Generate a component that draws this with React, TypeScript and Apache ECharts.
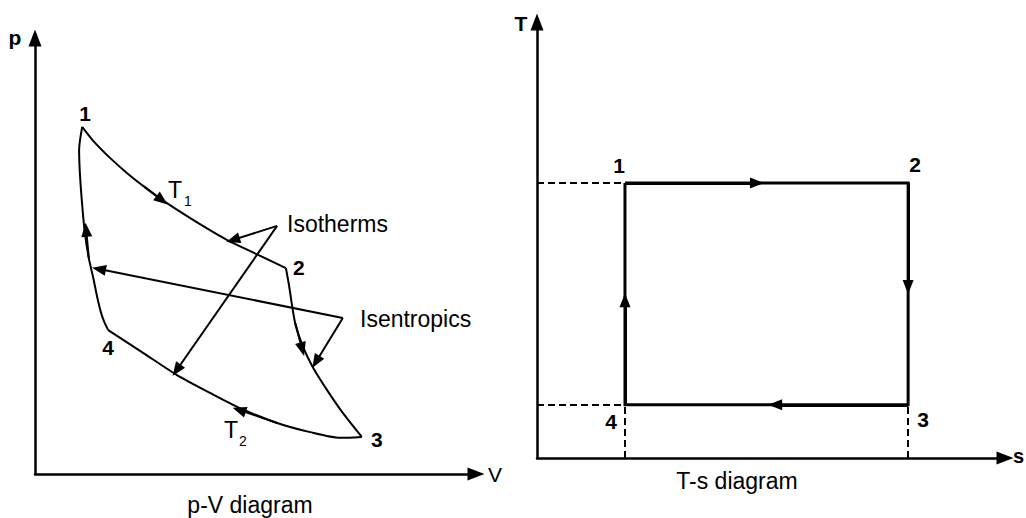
import React, { useEffect, useRef } from "react";
import * as echarts from "echarts";

// ---------- p-V diagram (arbitrary units: V 0..10, p 0..10) ----------
const isothermHotV = [1.07, 1.32, 1.7, 2.09, 2.49, 2.95, 3.63, 4.35, 5.01, 5.69];
const isothermHotP = [7.96, 7.64, 7.25, 6.9, 6.58, 6.24, 5.8, 5.37, 5.05, 4.72];
const isentropeExpV = [5.69, 5.76, 5.81, 5.9, 6.08, 6.3, 6.62, 6.98, 7.41];
const isentropeExpP = [4.72, 4.33, 3.99, 3.46, 2.91, 2.45, 1.93, 1.4, 0.85];
const isothermColdV = [7.41, 6.92, 6.24, 5.49, 4.65, 3.97, 3.22, 2.45, 1.66];
const isothermColdP = [0.85, 0.83, 0.96, 1.17, 1.51, 1.86, 2.27, 2.78, 3.3];
const isentropeCompV = [1.66, 1.57, 1.5, 1.41, 1.32, 1.22, 1.13, 1.07, 1.02, 1.0, 1.07];
const isentropeCompP = [3.3, 3.49, 3.69, 4.06, 4.5, 4.95, 5.53, 6.17, 6.86, 7.43, 7.96];

const pvStateNames = ["1", "2", "3", "4"];
const pvStateV = [1.07, 5.69, 7.41, 1.66];
const pvStateP = [7.96, 4.72, 0.85, 3.3];

// flow-direction arrows on the curves: [fromV, fromP, toV, toP]
const pvFlowArrows = [
  [2.49, 6.58, 2.88, 6.28],
  [5.9, 3.46, 6.06, 2.86],
  [5.49, 1.17, 4.63, 1.47],
  [1.22, 4.95, 1.16, 5.6],
];

// callouts
const isothermApex = [5.49, 5.69];
const isothermTargets = [
  [4.49, 5.37],
  [3.21, 2.38],
];
const isentropeApex = [6.98, 3.58];
const isentropeTargets = [
  [1.45, 4.7],
  [6.37, 2.57],
];

// ---------- T-s diagram (arbitrary units: s 0..10, T 0..10) ----------
const tsEntropy = [1.88, 7.93];
const tsTemperature = [6.31, 1.22];
const tsStateNames = ["1", "2", "3", "4"];
const tsStateS = [1.88, 7.93, 7.93, 1.88];
const tsStateT = [6.31, 6.31, 1.22, 1.22];
const tsFlowArrows = [
  [1.88, 6.31, 4.7, 6.31],
  [7.93, 6.31, 7.93, 3.92],
  [7.93, 1.22, 5.09, 1.22],
  [1.88, 1.22, 1.88, 3.62],
];

// label offsets (style)
const pvLabelOffsets = [
  [3, -13],
  [13, -1],
  [15, 3],
  [0, 17],
];
const tsLabelOffsets = [
  [-6, -17],
  [7, -18],
  [15, 15],
  [-14, 17],
];

const FONT = '"Liberation Sans", Arial, Helvetica, sans-serif';
const INK = "#000";

const zip = (a: number[], b: number[]) => a.map((v, i) => [v, b[i]]);

function axis(gridIndex: number) {
  return {
    type: "value",
    gridIndex,
    min: 0,
    max: 10,
    axisLabel: { show: false },
    axisTick: { show: false },
    splitLine: { show: false },
    axisLine: {
      show: true,
      onZero: false,
      symbol: ["none", "triangle"],
      symbolSize: [13, 17],
      lineStyle: { color: INK, width: 2.5 },
    },
  };
}

function curve(gridIndex: number, xs: number[], ys: number[]) {
  return {
    type: "line",
    xAxisIndex: gridIndex,
    yAxisIndex: gridIndex,
    data: zip(xs, ys),
    showSymbol: false,
    symbol: "none",
    smooth: 0.25,
    clip: false,
    silent: true,
    lineStyle: { color: INK, width: 2 },
    z: 3,
  };
}

function arrows(gridIndex: number, segs: number[][][], width: number, z = 5) {
  return {
    type: "lines",
    coordinateSystem: "cartesian2d",
    xAxisIndex: gridIndex,
    yAxisIndex: gridIndex,
    polyline: false,
    silent: true,
    symbol: ["none", "triangle"],
    symbolSize: [1, [11, 14]],
    lineStyle: { color: INK, width, opacity: 1, curveness: 0 },
    data: segs.map((c) => ({ coords: c })),
    z,
  };
}

function stateLabels(gridIndex: number, names: string[], xs: number[], ys: number[], offs: number[][]) {
  return {
    type: "scatter",
    xAxisIndex: gridIndex,
    yAxisIndex: gridIndex,
    symbolSize: 1,
    silent: true,
    itemStyle: { color: "#fff", opacity: 0 },
    label: {
      show: true,
      position: "inside",
      formatter: "{b}",
      color: INK,
      opacity: 1,
      textBorderWidth: 0,
      fontSize: 21,
      fontWeight: "bold",
      fontFamily: FONT,
    },
    data: names.map((n, i) => ({
      name: n,
      value: [xs[i], ys[i]],
      label: { offset: offs[i] },
    })),
    z: 6,
  };
}

function txt(text: string, x: number, y: number, size: number, align = "left", weight = "normal") {
  return {
    type: "text",
    x,
    y,
    silent: true,
    style: {
      text,
      fill: INK,
      fontSize: size,
      fontFamily: FONT,
      fontWeight: weight,
      align,
      verticalAlign: "middle",
    },
  };
}

export default function App() {
  const ref = useRef<HTMLDivElement>(null);

  useEffect(() => {
    if (!ref.current) return;
    const chart = echarts.init(ref.current, undefined, { renderer: "svg" });

    const pvFlowSegs = pvFlowArrows.map((a) => [
      [a[0], a[1]],
      [a[2], a[3]],
    ]);
    const tsFlowSegs = tsFlowArrows.map((a) => [
      [a[0], a[1]],
      [a[2], a[3]],
    ]);
    const calloutSegs = [
      ...isothermTargets.map((t) => [isothermApex, t]),
      ...isentropeTargets.map((t) => [isentropeApex, t]),
    ];
    const [s1, s2] = tsEntropy;
    const [tHi, tLo] = tsTemperature;
    const dashedSegs = [
      [[0, tHi], [s1, tHi]],
      [[0, tLo], [s1, tLo]],
      [[s1, 0], [s1, tLo]],
      [[s2, 0], [s2, tLo]],
    ];

    chart.setOption({
      animation: false,
      backgroundColor: "#fff",
      grid: [
        { left: 35, top: 38, width: 441, height: 436 },
        { left: 537, top: 22, width: 468, height: 436 },
      ],
      xAxis: [axis(0), axis(1)],
      yAxis: [axis(0), axis(1)],
      series: [
        curve(0, isothermHotV, isothermHotP),
        curve(0, isentropeExpV, isentropeExpP),
        curve(0, isothermColdV, isothermColdP),
        curve(0, isentropeCompV, isentropeCompP),
        arrows(0, pvFlowSegs, 2),
        arrows(0, calloutSegs, 2),
        stateLabels(0, pvStateNames, pvStateV, pvStateP, pvLabelOffsets),
        {
          type: "lines",
          coordinateSystem: "cartesian2d",
          xAxisIndex: 1,
          yAxisIndex: 1,
          silent: true,
          symbol: ["none", "none"],
          lineStyle: { color: INK, width: 2, opacity: 1, type: [7, 4] },
          data: dashedSegs.map((c) => ({ coords: c })),
          z: 2,
        },
        {
          type: "line",
          xAxisIndex: 1,
          yAxisIndex: 1,
          data: [
            [s1, tHi],
            [s2, tHi],
            [s2, tLo],
            [s1, tLo],
            [s1, tHi],
          ],
          showSymbol: false,
          symbol: "none",
          silent: true,
          lineStyle: { color: INK, width: 3, join: "miter" },
          z: 3,
        },
        arrows(1, tsFlowSegs, 3),
        stateLabels(1, tsStateNames, tsStateS, tsStateT, tsLabelOffsets),
      ],
      graphic: [
        txt("p", 15, 37, 21, "center", "bold"),
        txt("V", 488, 474, 21, "left"),
        txt("T", 521, 23, 21, "center", "bold"),
        txt("s", 1013, 456, 20, "left", "bold"),
        txt("T", 175, 190, 23, "center"),
        txt("1", 188, 201, 14, "center"),
        txt("T", 231, 430, 23, "center"),
        txt("2", 243, 441, 14, "center"),
        txt("Isotherms", 287, 224, 23, "left"),
        txt("Isentropics", 360, 319, 23, "left"),
        txt("p-V diagram", 250, 505, 23, "center"),
        txt("T-s diagram", 737, 481, 23, "center"),
      ],
    });

    return () => chart.dispose();
  }, []);

  return (
    <div
      ref={ref}
      style={{ position: "fixed", left: 0, top: 0, width: 1026, height: 518, background: "#fff" }}
    />
  );
}
